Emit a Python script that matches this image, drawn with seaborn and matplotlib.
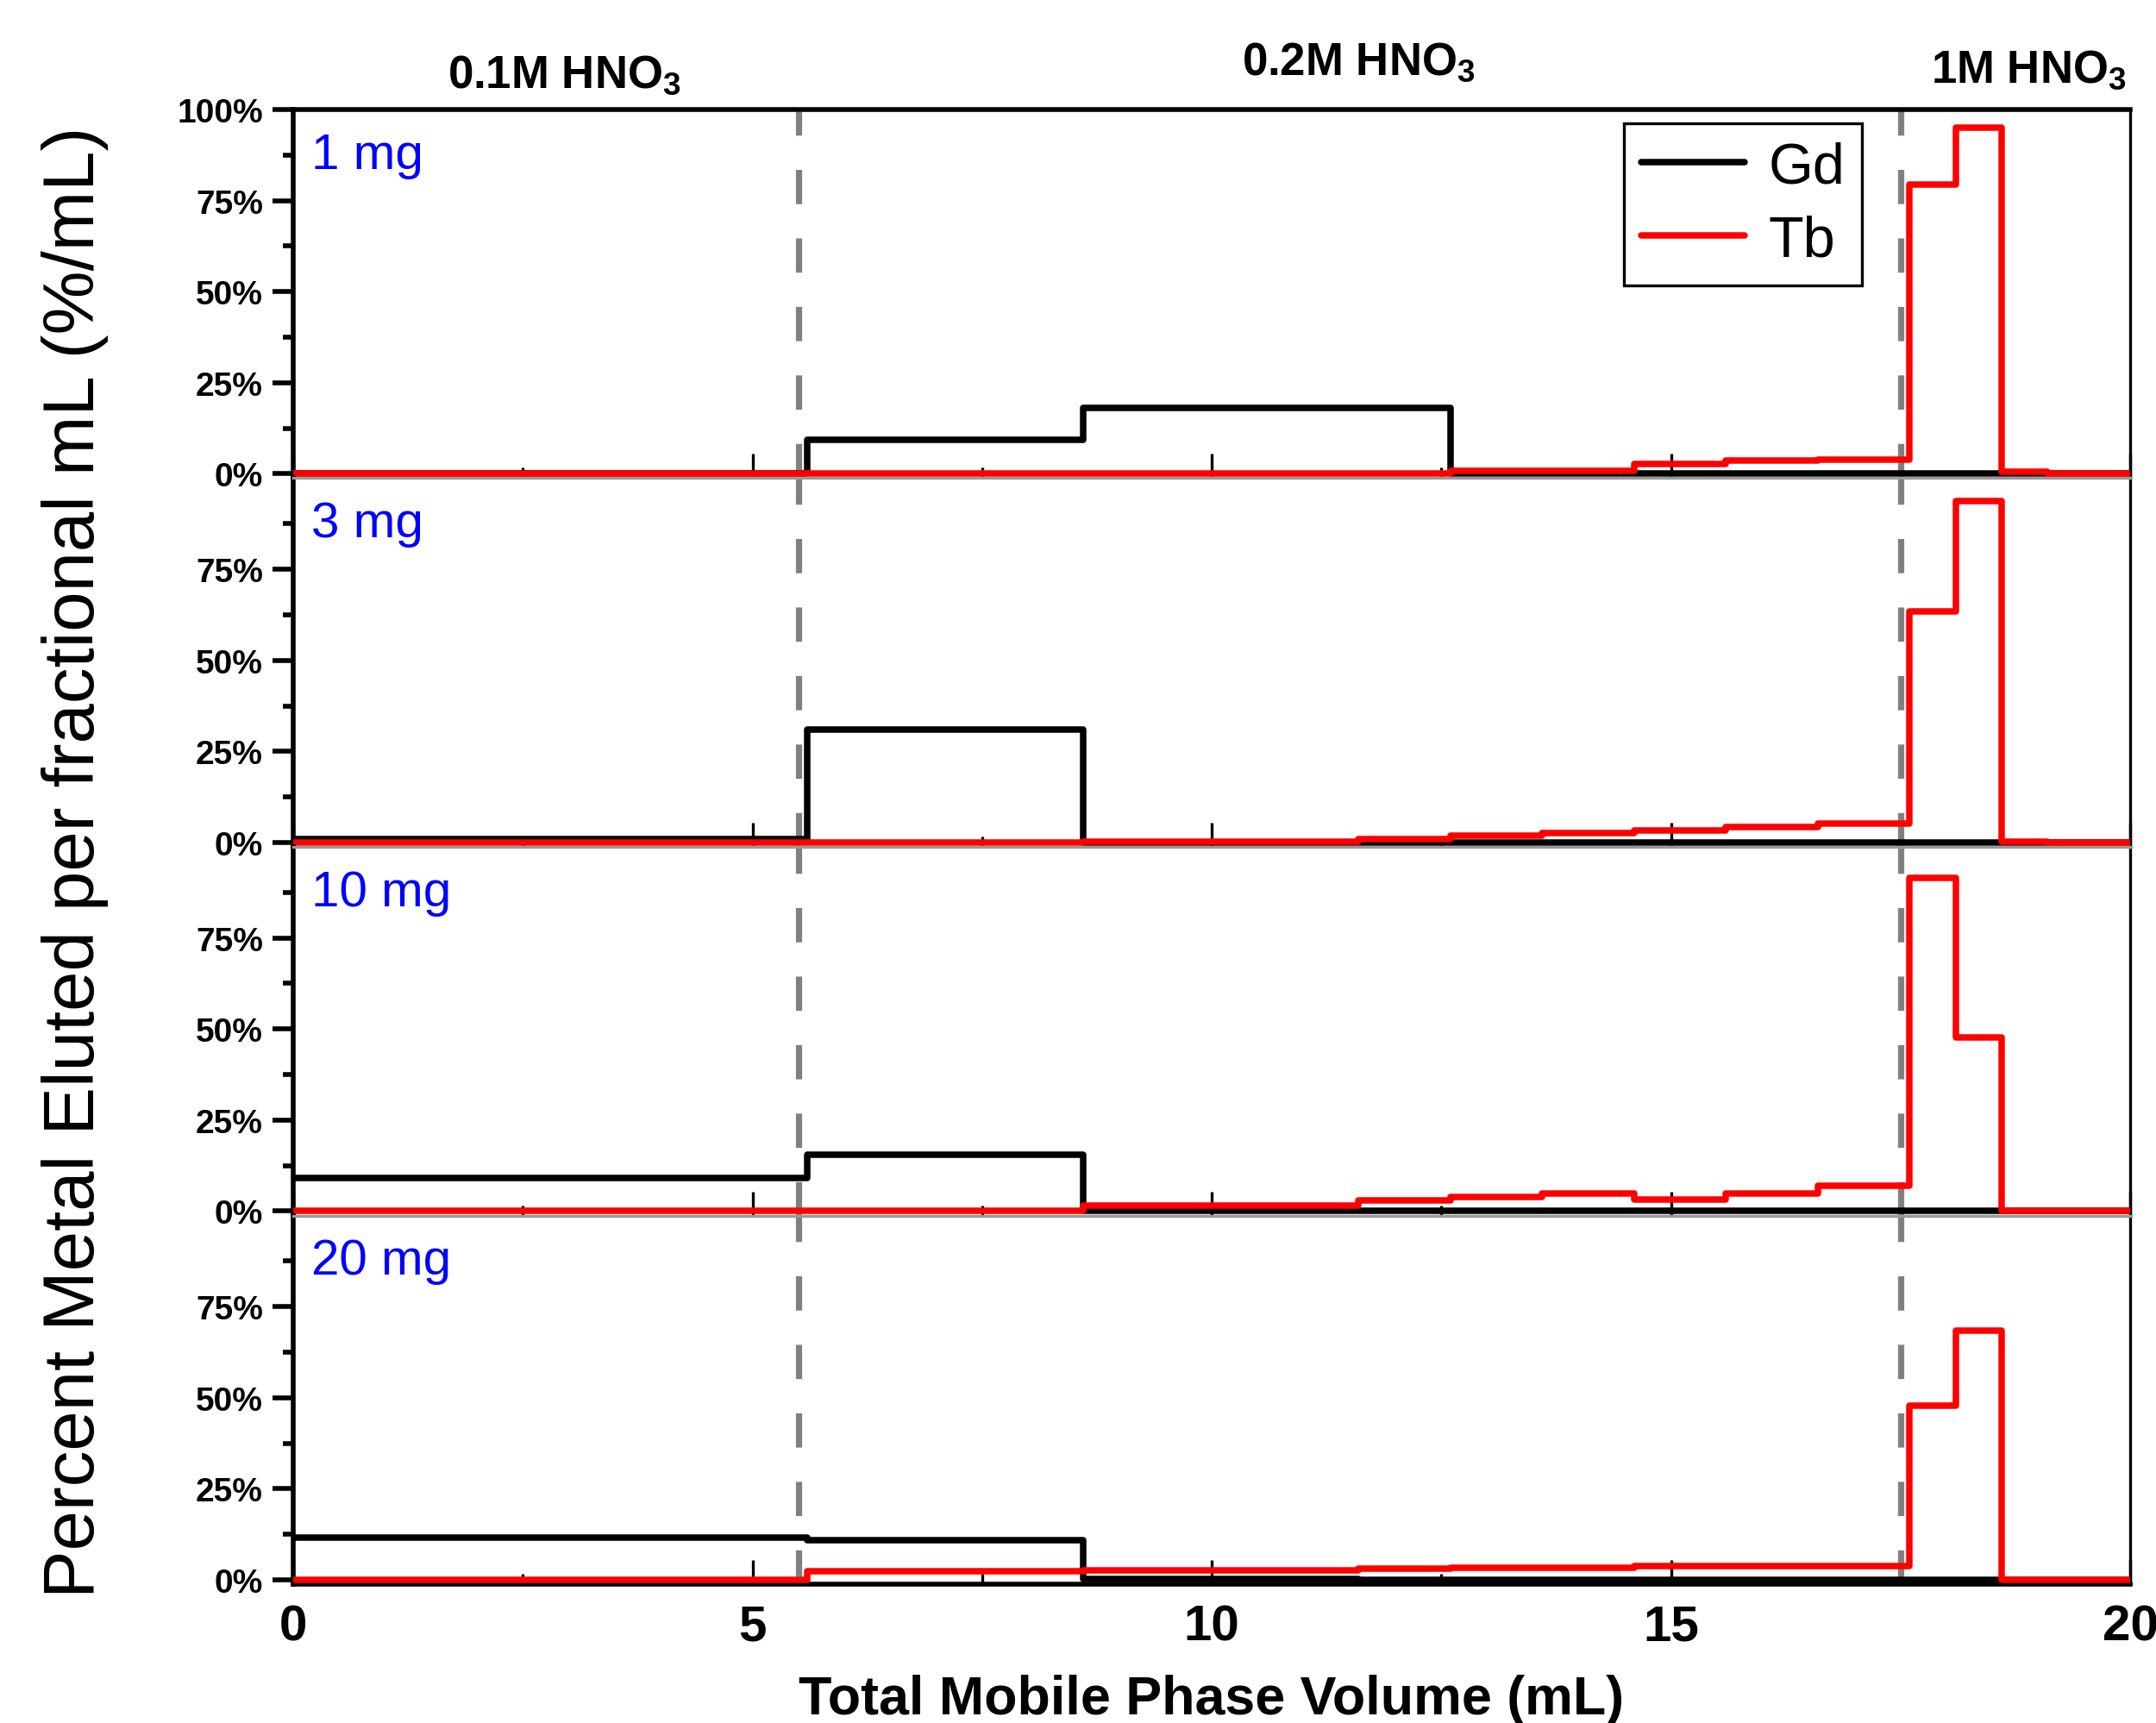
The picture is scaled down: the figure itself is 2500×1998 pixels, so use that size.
import numpy as np
import pandas as pd
import matplotlib
matplotlib.use("Agg")
import matplotlib.pyplot as plt
from matplotlib.ticker import MultipleLocator, FixedLocator
import seaborn as sns

# bin edges of the collected fractions (mL)
edges = [0, 5.6, 8.6, 11.6, 12.6, 13.6, 14.6, 15.6, 16.6, 17.6, 18.1, 18.6, 19.1, 20]

# percent eluted per fractional mL, one value per fraction
gd_1mg = [0, 9.4, 18.0, 18.0, 0, 0, 0, 0, 0, 0, 0, 0, 0]
tb_1mg = [0, 0, 0.2, 0.2, 0.9, 0.9, 2.6, 3.6, 4.0, 79.5, 95.0, 0.5, 0.2]
gd_3mg = [1.0, 31.0, 0, 0, 0, 0, 0, 0, 0, 0, 0, 0, 0]
tb_3mg = [0.1, 0.1, 0.2, 0.9, 1.8, 2.7, 3.3, 4.3, 5.2, 63.5, 93.7, 0.2, 0.0]
gd_10mg = [9.0, 15.4, 0, 0, 0, 0, 0, 0, 0, 0, 0, 0, 0]
tb_10mg = [0, 0, 1.6, 2.9, 3.9, 4.8, 3.3, 4.8, 7.0, 91.5, 47.7, 0, 0]
gd_20mg = [11.6, 10.9, 0.3, 0, 0, 0, 0, 0, 0, 0, 0, 0, 0]
tb_20mg = [0, 2.4, 2.7, 3.0, 3.3, 3.3, 3.9, 3.9, 3.9, 47.7, 68.5, 0, 0]

panels = ["1 mg", "3 mg", "10 mg", "20 mg"]
gd_all = [gd_1mg, gd_3mg, gd_10mg, gd_20mg]
tb_all = [tb_1mg, tb_3mg, tb_10mg, tb_20mg]

acid_labels = [r"0.1M HNO$_\mathrm{3}$", r"0.2M HNO$_\mathrm{3}$", r"1M HNO$_\mathrm{3}$"]
acid_x = [2.95, 11.6, 18.9]
acid_y = [1.06, 1.094, 1.075]
acid_changes = [5.5, 17.5]

rows = []
for name, gd, tb in zip(panels, gd_all, tb_all):
    for el, vals in (("Gd", gd), ("Tb", tb)):
        v = list(vals) + [vals[-1]]
        for x, y in zip(edges, v):
            rows.append({"panel": name, "element": el, "volume": x, "pct": y})
df = pd.DataFrame(rows)

sns.set_theme(style="white")
arial = ["Liberation Sans", "DejaVu Sans"]
plt.rcParams["font.family"] = arial
plt.rcParams["mathtext.fontset"] = "custom"
plt.rcParams["mathtext.rm"] = "Liberation Sans:bold"
plt.rcParams["mathtext.bf"] = "Liberation Sans:bold"
for key in ("text.color", "axes.labelcolor", "xtick.color", "ytick.color"):
    plt.rcParams[key] = "black"

fig = plt.figure(figsize=(12.5, 9.995), dpi=200)
axes = fig.subplots(4, 1, sharex=True, gridspec_kw=dict(hspace=0))
fig.subplots_adjust(left=0.136, right=0.988, top=0.936, bottom=0.0805)

palette = {"Gd": "black", "Tb": "#ff0000"}

for i, (ax, name) in enumerate(zip(axes, panels)):
    for xv in acid_changes:
        ax.axvline(xv, color="#808080", lw=2.6, dashes=(5.5, 5.5), zorder=1)
    sns.lineplot(data=df[df["panel"] == name], x="volume", y="pct", hue="element",
                 palette=palette, drawstyle="steps-post", estimator=None,
                 lw=2.7, ax=ax, legend=(i == 0), zorder=3)
    ax.set_xlim(0, 20)
    ax.set_ylim(-1.2, 100)
    ax.set_xlabel("")
    ax.set_ylabel("")
    if i == 0:
        ax.yaxis.set_major_locator(FixedLocator([0, 25, 50, 75, 100]))
    else:
        ax.yaxis.set_major_locator(FixedLocator([0, 25, 50, 75]))
    ax.yaxis.set_minor_locator(FixedLocator([12.5, 37.5, 62.5, 87.5]))
    ax.set_yticklabels([f"{int(t)}%" for t in ax.get_yticks()],
                       fontweight="bold", fontsize=14)
    ax.xaxis.set_major_locator(MultipleLocator(5))
    ax.xaxis.set_minor_locator(MultipleLocator(2.5))
    ax.tick_params(axis="y", which="major", direction="out", length=8.6, width=2, left=True, pad=4)
    ax.tick_params(axis="y", which="minor", direction="out", length=4.3, width=2, left=True)
    ax.tick_params(axis="x", which="major", direction="in", length=10, width=1.2, bottom=True)
    ax.tick_params(axis="x", which="minor", direction="in", length=4.3, width=1.2, bottom=True)
    for side in ("left", "top", "bottom"):
        ax.spines[side].set_linewidth(2)
        ax.spines[side].set_color("black")
    ax.spines["right"].set_linewidth(1.2)
    ax.spines["right"].set_color("black")
    if i > 0:
        ax.spines["top"].set_color("#999999")
        ax.spines["top"].set_linewidth(1.2)
    if i < 3:
        ax.spines["bottom"].set_color("#999999")
        ax.spines["bottom"].set_linewidth(1.2)
    ax.text(0.01, 0.94, name, transform=ax.transAxes, color="#0000ff",
            fontsize=21, va="top", ha="left")

top = axes[0]
for lab, xv, yv in zip(acid_labels, acid_x, acid_y):
    top.text(xv, yv, lab, transform=top.get_xaxis_transform(), ha="center",
             va="baseline", fontsize=19, fontweight="bold")

handles, labels = top.get_legend_handles_labels()
leg = top.legend(handles, labels, loc="upper right", bbox_to_anchor=(0.854, 0.962),
                 fontsize=24, handlelength=1.8, frameon=True, fancybox=False,
                 edgecolor="black", framealpha=1, borderpad=0.3, labelspacing=0.35,
                 handletextpad=0.4, borderaxespad=0)
leg.get_frame().set_linewidth(1.2)
for h in leg.get_lines():
    h.set_linewidth(2.7)

bottom = axes[-1]
bottom.set_xticklabels([str(int(t)) for t in bottom.get_xticks()],
                       fontweight="bold", fontsize=21)
bottom.tick_params(axis="x", pad=8)
bottom.set_xlabel("Total Mobile Phase Volume (mL)", fontsize=22.6, fontweight="bold",
                  labelpad=10)

fig.text(0.035, 0.5, "Percent Metal Eluted per fractional mL (%/mL)", rotation=90,
         ha="center", va="center", fontsize=30)

fig.savefig("out.png", dpi=200)
